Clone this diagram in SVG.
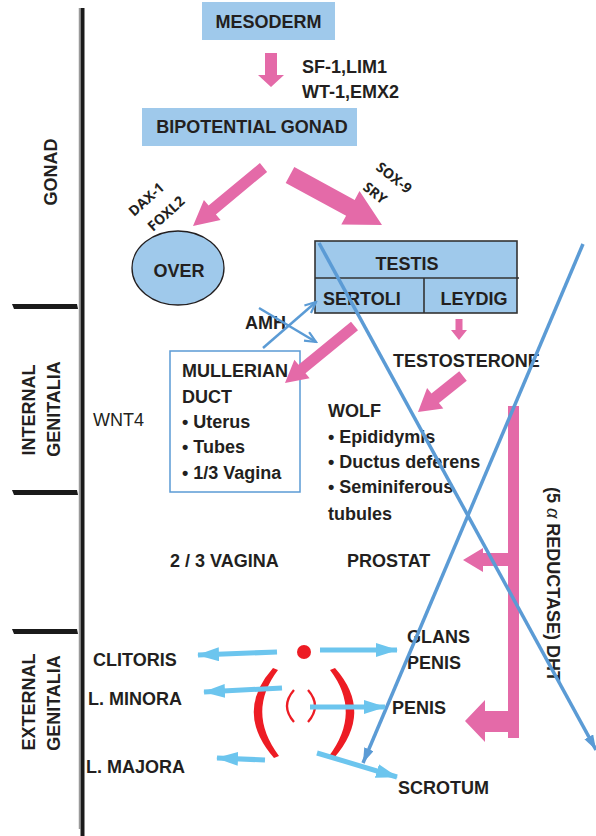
<svg xmlns="http://www.w3.org/2000/svg" width="596" height="836" viewBox="0 0 596 836">
<defs>
<style>
.t{font-family:"Liberation Sans",Arial,sans-serif;font-weight:bold;font-size:18px;fill:#231f20}
.r{font-family:"Liberation Sans",Arial,sans-serif;font-size:18px;fill:#231f20}
.s{font-family:"Open Sans","Noto Sans",sans-serif;font-weight:bold;font-size:14px;fill:#231f20}
.box{fill:#9fc9eb}
.pink{fill:#e46aa8}
.bl{stroke:#5b9bd5;stroke-width:3.5;fill:none}
.lb{stroke:#6cc5ee;stroke-width:5;fill:none}
</style>
<marker id="lbh" markerUnits="userSpaceOnUse" markerWidth="22" markerHeight="16" refX="21" refY="7" orient="auto">
<path d="M0,0 L22,7 L0,14 Z" fill="#6cc5ee"/>
</marker>
<marker id="blh" markerUnits="userSpaceOnUse" markerWidth="16" markerHeight="12" refX="15" refY="5" orient="auto">
<path d="M0,0 L15,5 L0,10 Z" fill="#5b9bd5"/>
</marker>
<marker id="blv" markerUnits="userSpaceOnUse" markerWidth="14" markerHeight="12" refX="12" refY="6" orient="auto">
<path d="M1,1 L12,6 L1,11" fill="none" stroke="#5b9bd5" stroke-width="2.2"/>
</marker>
</defs>

<g id="axis">
<line x1="79.5" y1="8" x2="79.5" y2="829" stroke="#9a9a9a" stroke-width="1.5"/>
<rect x="80.5" y="8" width="4" height="828" fill="#1a1a1a"/>
<path d="M12,304 L77,304 L78,309 L14,309 Z" fill="#1a1a1a"/>
<path d="M12,490 L77,490 L78,495 L14,495 Z" fill="#1a1a1a"/>
<path d="M12,629 L77,629 L78,634 L14,634 Z" fill="#1a1a1a"/>
<text class="t" transform="translate(57,172) rotate(-90)" text-anchor="middle">GONAD</text>
<text class="t" transform="translate(35,410) rotate(-90)" text-anchor="middle">INTERNAL</text>
<text class="t" transform="translate(60,409) rotate(-90)" text-anchor="middle">GENITALIA</text>
<text class="t" transform="translate(35,702) rotate(-90)" text-anchor="middle">EXTERNAL</text>
<text class="t" transform="translate(60,703) rotate(-90)" text-anchor="middle">GENITALIA</text>
</g>

<g id="mesoderm">
<rect class="box" x="202" y="2" width="133" height="38"/>
<text class="t" x="268.5" y="28" text-anchor="middle">MESODERM</text>
</g>

<g id="factors1">
<text class="t" x="302" y="73">SF-1,LIM1</text>
<text class="t" x="302" y="98">WT-1,EMX2</text>
</g>

<g id="bipotential">
<rect class="box" x="142" y="108" width="215" height="38"/>
<text class="t" x="252" y="133" text-anchor="middle">BIPOTENTIAL GONAD</text>
</g>

<g id="factors2">
<text class="s" transform="translate(134,217) rotate(-42)">DAX-1</text>
<text class="s" transform="translate(153,232) rotate(-42)">FOXL2</text>
<text class="s" transform="translate(375,169) rotate(38)">SOX-9</text>
<text class="s" transform="translate(362,189) rotate(38)">SRY</text>
</g>

<g id="over">
<ellipse cx="178" cy="268" rx="46" ry="37" fill="#9fc9eb" stroke="#231f20" stroke-width="1.3"/>
<text class="t" x="179" y="277" text-anchor="middle">OVER</text>
</g>

<g id="testis">
<rect class="box" x="315" y="241" width="202" height="72" stroke="#333" stroke-width="1.6"/>
<line x1="315" y1="278" x2="519" y2="278" stroke="#333" stroke-width="1.6"/>
<line x1="424" y1="278" x2="424" y2="313" stroke="#333" stroke-width="1.6"/>
<text class="t" x="407" y="270" text-anchor="middle">TESTIS</text>
<text class="t" x="323" y="305">SERTOLI</text>
<text class="t" x="474" y="305" text-anchor="middle">LEYDIG</text>
</g>

<g id="amh">
<text class="t" x="245" y="329">AMH</text>
</g>

<g id="mullerian">
<rect x="170" y="351" width="130" height="141" fill="#fff" stroke="#5b9bd5" stroke-width="1.5"/>
<text class="t" x="182" y="377">MULLERIAN</text>
<text class="t" x="182" y="403">DUCT</text>
<text class="t" x="182" y="428">• Uterus</text>
<text class="t" x="182" y="453">• Tubes</text>
<text class="t" x="182" y="479">• 1/3 Vagina</text>
</g>

<g id="wnt4">
<text class="r" x="93" y="426">WNT4</text>
</g>

<g id="testosterone">
<text class="t" x="393" y="367">TESTOSTERONE</text>
</g>

<g id="wolf">
<text class="t" x="328" y="417">WOLF</text>
<text class="t" x="328" y="443">• Epididymis</text>
<text class="t" x="328" y="468">• Ductus deferens</text>
<text class="t" x="328" y="493">• Seminiferous</text>
<text class="t" x="328" y="520">tubules</text>
</g>

<g id="vagina23">
<text class="t" x="170" y="567">2 / 3 VAGINA</text>
</g>

<g id="prostat">
<text class="t" x="347" y="567">PROSTAT</text>
</g>

<g id="dht">
<text class="t" transform="translate(547,487) rotate(90)" textLength="195" lengthAdjust="spacingAndGlyphs">(5 <tspan font-weight="normal" font-style="italic">α</tspan> REDUCTASE) DHT</text>
</g>

<g id="clitoris"><text class="t" x="93" y="666">CLITORIS</text></g>
<g id="lminora"><text class="t" x="88" y="705">L. MINORA</text></g>
<g id="lmajora"><text class="t" x="86" y="773">L. MAJORA</text></g>
<g id="glans"><text class="t" x="407" y="643">GLANS</text><text class="t" x="407" y="669">PENIS</text></g>
<g id="penis"><text class="t" x="392" y="714">PENIS</text></g>
<g id="scrotum"><text class="t" x="398" y="794">SCROTUM</text></g>

<g id="tubercle">
<circle cx="304" cy="652" r="7" fill="#ed1c24"/>
<path d="M273,668 Q234,712 274,758 L279,756 Q246,712 278,670 Z" fill="#ed1c24"/>
<path d="M335,668 Q374,712 334,758 L329,756 Q362,712 330,670 Z" fill="#ed1c24"/>
<path d="M294,690 Q280,706 294,722" fill="none" stroke="#ed1c24" stroke-width="2.3"/>
<path d="M308,690 Q322,706 308,722" fill="none" stroke="#ed1c24" stroke-width="2.3"/>
</g>

<g id="connectors">
<polygon class="pink" points="265,53 277,53 277,75 284,75 271,87 258,75 265,75"/>
<polygon class="pink" points="259.9,163.1 208.6,205.6 203.9,200 193,226 220.6,220 215.9,214.4 267.1,171.9"/>
<polygon class="pink" points="285.7,182.9 346.1,215.7 341.3,224.5 382,225 359.5,191.1 354.7,199.9 294.3,167.1"/>
<polygon class="pink" points="351,321.75 298.5,364.8 294.4,359.8 285,383 309.6,378.3 305.5,373.3 358,330.25"/>
<polygon class="pink" points="455.5,319 462.5,319 462.5,330 467,330 459,340 451,330 455.5,330"/>
<polygon class="pink" points="459.25,371.3 431.45,393.56 427.1,388.1 418,412 443.3,408.4 438.95,402.94 466.75,380.7"/>
<rect class="pink" x="508" y="406" width="11" height="332"/>
<polygon class="pink" points="508,553 483,553 483,548 463,560 483,572 483,566 508,566"/>
<polygon class="pink" points="508,711 485,711 485,700 465,721 485,742 485,732 508,732"/>

<line x1="263" y1="348" x2="316" y2="302" stroke="#5b9bd5" stroke-width="2.5" marker-end="url(#blv)"/>
<line x1="259" y1="308" x2="316" y2="342" stroke="#5b9bd5" stroke-width="2.5" marker-end="url(#blv)"/>

<line class="bl" x1="319" y1="243" x2="596" y2="750" marker-end="url(#blh)"/>
<line class="bl" x1="583" y1="244" x2="363" y2="763" marker-end="url(#blh)"/>

<line class="lb" x1="277" y1="652" x2="198" y2="655" marker-end="url(#lbh)"/>
<line class="lb" x1="320" y1="650" x2="397" y2="650" marker-end="url(#lbh)"/>
<line class="lb" x1="282" y1="688" x2="204" y2="692" marker-end="url(#lbh)"/>
<line class="lb" x1="310" y1="707" x2="385" y2="707" marker-end="url(#lbh)"/>
<line class="lb" x1="265" y1="760" x2="217" y2="758" marker-end="url(#lbh)"/>
<line class="lb" x1="317" y1="753" x2="397" y2="777" marker-end="url(#lbh)"/>
</g>
</svg>
